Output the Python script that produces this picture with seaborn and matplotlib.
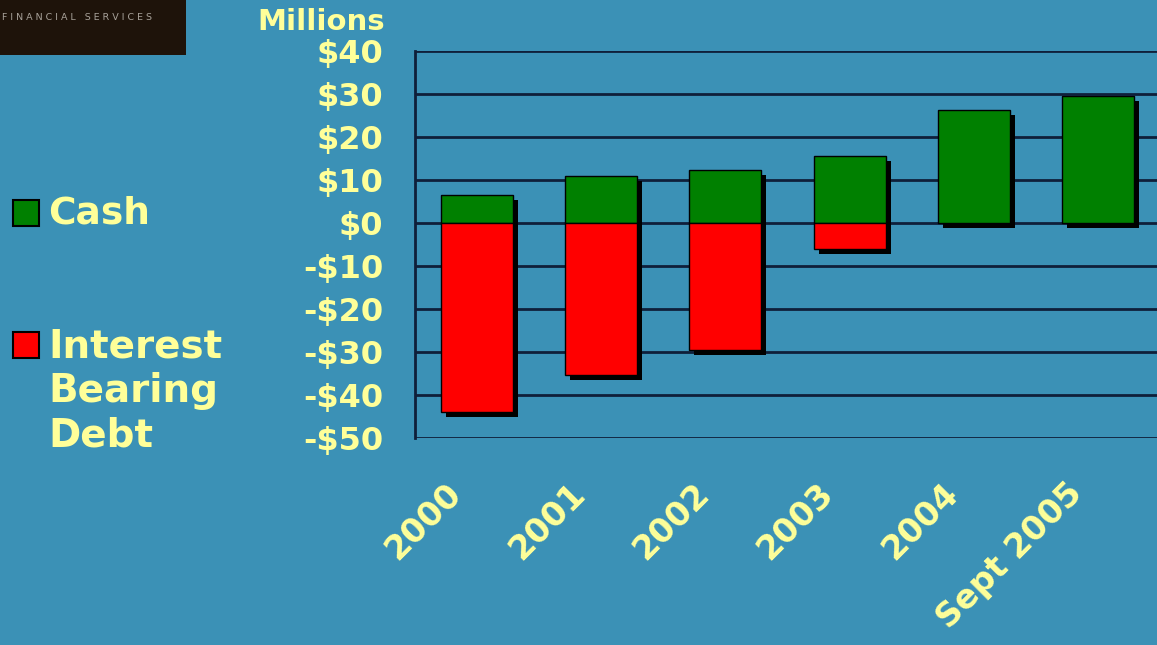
import matplotlib
matplotlib.use("Agg")
import matplotlib.pyplot as plt
import matplotlib.patheffects as pe
from matplotlib.patches import Rectangle
from matplotlib.transforms import ScaledTranslation
import pandas as pd
import seaborn as sns

# Year-end balances, $ millions
periods = ["2000", "2001", "2002", "2003", "2004", "Sept 2005"]
cash = [6.5, 11.0, 12.3, 15.6, 26.2, 29.6]
debt = [-44.0, -35.3, -29.5, -6.1, None, None]
y_ticks = [40, 30, 20, 10, 0, -10, -20, -30, -40, -50]

BG = "#3B91B6"
TXT = "#FFFF99"
GRID = "#0F1F3A"
GREEN = "#008000"
RED = "#FF0000"

sns.set_theme(style="white")
plt.rcParams["font.family"] = ["DejaVu Sans"]
plt.rcParams["font.weight"] = "bold"

fig = plt.figure(figsize=(11.57, 6.45), dpi=100, facecolor=BG)
ax = fig.add_axes([415 / 1157, 207 / 645, 745 / 1157, 387 / 645])
ax.set_facecolor(BG)

cash_df = pd.DataFrame({"period": periods, "value": cash})
debt_df = pd.DataFrame({"period": periods, "value": debt}).dropna()

sns.barplot(data=cash_df, x="period", y="value", order=periods, color=GREEN,
            saturation=1, width=0.58, edgecolor="black", linewidth=1, ax=ax)
sns.barplot(data=debt_df, x="period", y="value", order=periods, color=RED,
            saturation=1, width=0.58, edgecolor="black", linewidth=1, ax=ax)

# Drop shadows on every bar
for p in ax.patches:
    p.set_path_effects([
        pe.SimplePatchShadow(offset=(3.6, -3.6), shadow_rgbFace="black", alpha=1),
        pe.Normal(),
    ])

ax.set_xlim(-0.5, 5.5)
ax.set_ylim(-50, 40)
ax.set_yticks(y_ticks)
ax.set_yticklabels([f"${v}" if v >= 0 else f"-${-v}" for v in y_ticks])
ax.yaxis.grid(True, color=GRID, linewidth=2)
ax.set_axisbelow(True)
ax.set_xlabel("")
ax.set_ylabel("")

for side in ["top", "right", "bottom"]:
    ax.spines[side].set_visible(False)
ax.spines["left"].set_color(GRID)
ax.spines["left"].set_linewidth(2)

ax.tick_params(axis="y", length=0, pad=23, labelsize=23, labelcolor=TXT)
ax.tick_params(axis="x", length=0, pad=14, labelsize=24, labelcolor=TXT)
for lab in ax.get_yticklabels():
    lab.set_fontweight("bold")
shift = ScaledTranslation(-21 / 100, -31 / 100, fig.dpi_scale_trans)
for lab in ax.get_xticklabels():
    lab.set_fontweight("bold")
    lab.set_rotation(45)
    lab.set_ha("right")
    lab.set_va("center")
    lab.set_rotation_mode("anchor")
    lab.set_transform(lab.get_transform() + shift)

fig.text(385 / 1157, 1 - 22 / 645, "Millions", ha="right", va="center",
         color=TXT, fontsize=21, fontweight="bold")

# Legend
def key(x, y, color):
    fig.add_artist(Rectangle((x / 1157, 1 - (y + 26) / 645), 26 / 1157, 26 / 645,
                             transform=fig.transFigure, facecolor=color,
                             edgecolor="black", linewidth=1.5))

key(13, 200, GREEN)
fig.text(48 / 1157, 1 - 213 / 645, "Cash", ha="left", va="center",
         color=TXT, fontsize=27, fontweight="bold")
key(13, 332, RED)
fig.text(48 / 1157, 1 - 327 / 645, "Interest\nBearing\nDebt", ha="left", va="top",
         color=TXT, fontsize=28, fontweight="bold", linespacing=1.23)

# Logo block
fig.add_artist(Rectangle((0, 1 - 55 / 645), 186 / 1157, 55 / 645,
                         transform=fig.transFigure, facecolor="#1E130A",
                         edgecolor="none"))
fig.text(2 / 1157, 1 - 18 / 645, "F I N A N C I A L   S E R V I C E S", ha="left",
         va="center", color="#A8A29A", fontsize=6.8, fontweight="normal")

fig.savefig("out.png", dpi=100, facecolor=BG)
